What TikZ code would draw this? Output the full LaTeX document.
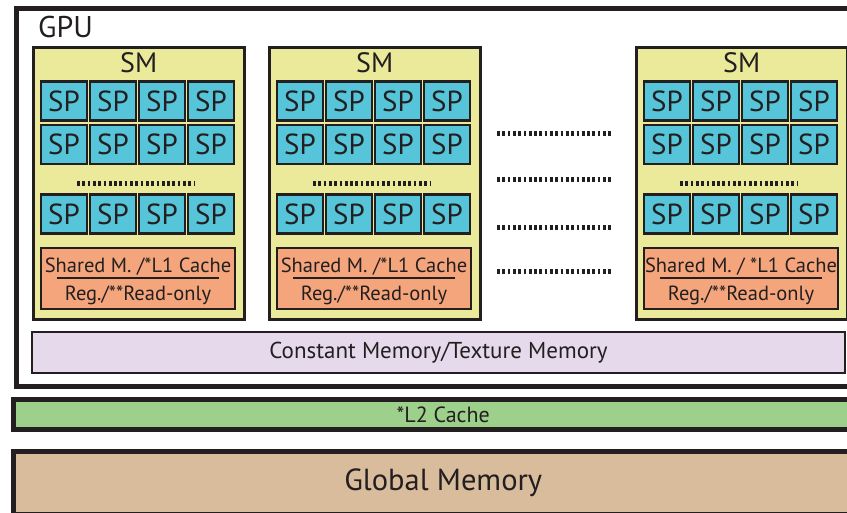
\documentclass[tikz,border=0pt]{standalone}
\usepackage{fontspec}
\setmainfont{PT Sans}
\usetikzlibrary{positioning,calc}
\definecolor{edge}{HTML}{231F20}
\definecolor{smyellow}{HTML}{EBEA9A}
\definecolor{spblue}{HTML}{56C5D9}
\definecolor{sharedorange}{HTML}{F4A57C}
\definecolor{constlilac}{HTML}{E5D9EB}
\definecolor{ltwogreen}{HTML}{9CD08B}
\definecolor{globaltan}{HTML}{D9BC9C}

\begin{document}
\begin{tikzpicture}[
    x=1pt, y=-1pt,
    box/.style={draw=edge, line width=2.5pt, inner sep=0pt, text=edge},
    heavy/.style={draw=edge, line width=5pt, inner sep=0pt, text=edge},
    smbox/.style={box, fill=smyellow, minimum width=211pt, minimum height=272pt},
    smlabel/.style={text=edge, font=\fontsize{28}{28}\selectfont},
    spbox/.style={box, fill=spblue, minimum width=46pt, minimum height=39pt, font=\fontsize{29}{29}\selectfont},
    sharedbox/.style={box, fill=sharedorange, minimum width=194pt, minimum height=61pt},
    sharedtext/.style={inner sep=0pt, text=edge, align=center, font=\fontsize{20.5}{28}\selectfont},
    dots/.style={draw=edge, line width=5pt, dash pattern=on 2.7pt off 2.6pt}
]
\useasboundingbox (0,0) rectangle (847,512);
\clip (0,0) rectangle (847,512);

% GPU frame
\node[heavy, anchor=north west, minimum width=859.5pt, minimum height=378.5pt] (gpu) at (13.5,5.5) {};
\node[anchor=west, text=edge, font=\fontsize{30}{30}\selectfont, inner sep=0pt] (gpulabel) at (38,27) {GPU};

% streaming multiprocessors
\foreach \s/\x in {1/32, 2/268, 3/635} {
    \node[smbox, anchor=north west] (sm\s) at (\x,46) {};
    \node[smlabel] (smlabel\s) at ($(sm\s.north)+(0,17)$) {SM};
    \foreach \r/\y in {1/101, 2/144.5, 3/214} {
        \foreach \c in {1,...,4} {
            \node[spbox] (sp\s\r\c) at ({\x+32+49*(\c-1)},\y) {SP};
        }
    }
    \draw[dots] ($(sm\s.north west)+(45,137)$) -- ++(118,0);
    \node[sharedbox] (shared\s) at ($(sm\s.north west)+(106,232.5)$) {};
    \draw[edge, line width=2pt] ($(shared\s.center)+(-81,-0.5)$) -- ++(162,0);
}

\node[sharedtext] (sharedtext1) at ($(shared1.center)+(0,2.5)$) {Shared M. /*L1 Cache\\Reg./**Read-only};
\node[sharedtext] (sharedtext2) at ($(shared2.center)+(0,2.5)$) {Shared M. /*L1 Cache\\Reg./**Read-only};
\node[sharedtext] (sharedtext3) at ($(shared3.center)+(0,2.5)$) {Shared M. / *L1 Cache\\Reg./**Read-only};

% more SMs
\foreach \y in {133,179,227,271}
    \draw[dots] (497,\y) -- (613,\y);

% memories
\node[box, fill=constlilac, minimum width=813pt, minimum height=41pt, font=\fontsize{23}{23}\selectfont] (constmem) at (438.5,352.5) {Constant Memory/Texture Memory};
\node[heavy, fill=ltwogreen, minimum width=859.5pt, minimum height=30pt, font=\fontsize{22}{22}\selectfont] (ltwo) at (443.25,414.5) {*L2 Cache};
\node[heavy, fill=globaltan, minimum width=859.5pt, minimum height=63pt, font=\fontsize{30.5}{30.5}\selectfont] (globalmem) at (443.25,483) {Global Memory};

\end{tikzpicture}
\end{document}
